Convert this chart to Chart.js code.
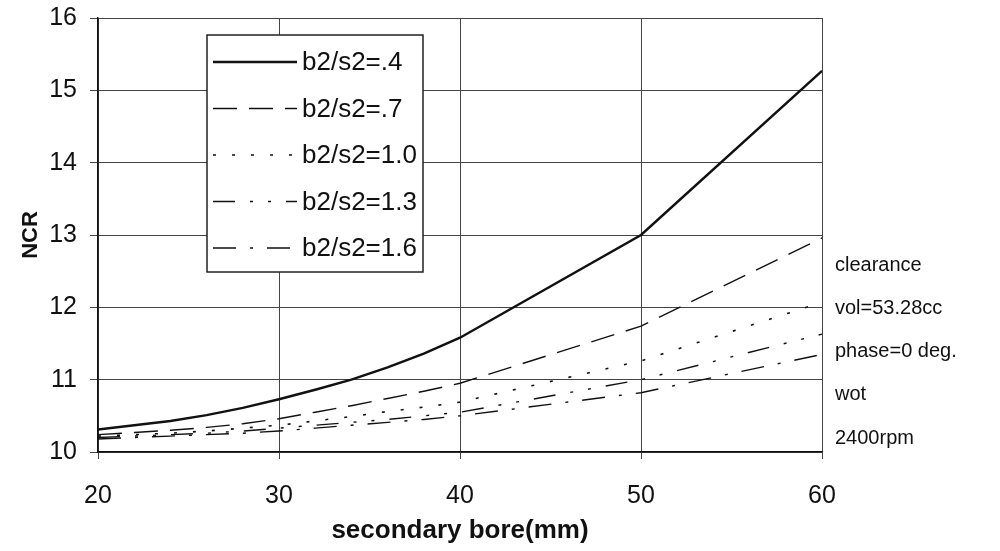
<!DOCTYPE html>
<html>
<head>
<meta charset="utf-8">
<script src="https://cdn.jsdelivr.net/npm/chart.js@4/dist/chart.umd.min.js"></script>
<style>
  html, body { margin: 0; padding: 0; background: #fff; }
  #wrap { width: 1000px; height: 551px; }
</style>
</head>
<body>
<div id="wrap"><canvas id="ncrChart"></canvas></div>
<script>
// secondary bore (mm)
const boreSizes = [20, 22, 24, 26, 28, 30, 32, 34, 36, 38, 40, 50, 60];

// NCR for each b2/s2 ratio
const ncr04 = [10.31, 10.37, 10.43, 10.51, 10.61, 10.73, 10.86, 11.00, 11.17, 11.36, 11.58, 13.00, 15.27];
const ncr07 = [10.24, 10.27, 10.30, 10.34, 10.39, 10.46, 10.55, 10.64, 10.74, 10.84, 10.95, 11.74, 12.96];
const ncr10 = [10.22, 10.24, 10.26, 10.29, 10.33, 10.37, 10.43, 10.49, 10.56, 10.62, 10.69, 11.26, 12.07];
const ncr13 = [10.20, 10.22, 10.24, 10.26, 10.29, 10.33, 10.37, 10.41, 10.45, 10.50, 10.55, 11.00, 11.63];
const ncr16 = [10.18, 10.20, 10.22, 10.24, 10.26, 10.29, 10.33, 10.37, 10.41, 10.45, 10.50, 10.82, 11.35];

const seriesLabels = ['b2/s2=.4', 'b2/s2=.7', 'b2/s2=1.0', 'b2/s2=1.3', 'b2/s2=1.6'];
const noteLines = ['clearance', 'vol=53.28cc', 'phase=0 deg.', 'wot', '2400rpm'];

const FONT = '"Liberation Sans", Arial, Helvetica, sans-serif';

function toPoints(values) {
    return values.map(function(v, i) {
        return { x: boreSizes[i], y: v };
    });
}

// legend box inside the plot and the notes at the right
const boxLegend = {
    id: 'boxLegend',
    afterDraw(chart) {
        const ctx = chart.ctx;
        const area = chart.chartArea;
        const left = area.left + 109, top = 35, w = 216, h = 237;
        ctx.save();
        ctx.fillStyle = '#fff';
        ctx.fillRect(left, top, w, h);
        ctx.strokeStyle = '#222';
        ctx.lineWidth = 1.5;
        ctx.strokeRect(left, top, w, h);

        ctx.font = '26px ' + FONT;
        ctx.fillStyle = '#111';
        ctx.textBaseline = 'middle';
        chart.data.datasets.forEach(function(ds, i) {
            const y = 62 + i * 46.5;
            ctx.strokeStyle = '#111';
            ctx.lineWidth = ds.borderWidth;
            ctx.setLineDash(ds.borderDash || []);
            ctx.beginPath();
            ctx.moveTo(left + 6, y);
            ctx.lineTo(left + 90, y);
            ctx.stroke();
            ctx.setLineDash([]);
            ctx.fillText(ds.label, left + 95, y + 1);
        });

        ctx.font = '20px ' + FONT;
        noteLines.forEach(function(t, i) {
            ctx.fillText(t, area.right + 13, 265 + i * 43.3);
        });
        ctx.restore();
    }
};

const datasets = [
    { label: seriesLabels[0], data: toPoints(ncr04), borderWidth: 2.5, borderDash: [] },
    { label: seriesLabels[1], data: toPoints(ncr07), borderWidth: 1.4, borderDash: [24, 12] },
    { label: seriesLabels[2], data: toPoints(ncr10), borderWidth: 1.6, borderDash: [3, 16] },
    { label: seriesLabels[3], data: toPoints(ncr13), borderWidth: 1.4, borderDash: [22, 15, 3, 15, 3, 15] },
    { label: seriesLabels[4], data: toPoints(ncr16), borderWidth: 1.4, borderDash: [23, 14, 3, 14] },
].map(function(ds) {
    return Object.assign({
        borderColor: '#111',
        backgroundColor: '#111',
        pointRadius: 0,
        fill: false,
        tension: 0,
    }, ds);
});

const config = {
    type: 'line',
    data: { datasets: datasets },
    options: {
        responsive: true,
        maintainAspectRatio: false,
        animation: false,
        layout: { padding: { top: 18, right: 178, left: 0, bottom: 0 } },
        plugins: {
            legend: { display: false },
            tooltip: { enabled: false },
        },
        scales: {
            x: {
                type: 'linear',
                min: 20,
                max: 60,
                ticks: {
                    stepSize: 10,
                    color: '#111',
                    padding: 22,
                    font: { family: FONT, size: 25 },
                },
                grid: { color: '#444', lineWidth: 1, tickLength: 7 },
                border: { color: '#111', width: 1.5 },
                title: {
                    display: true,
                    text: 'secondary bore(mm)',
                    color: '#111',
                    font: { family: FONT, size: 26, weight: 'bold' },
                    padding: 5,
                },
                afterFit(scale) {
                    scale.height = 99;
                    scale.paddingLeft = 0;
                    scale.paddingRight = 0;
                },
            },
            y: {
                min: 10,
                max: 16,
                ticks: {
                    stepSize: 1,
                    color: '#111',
                    padding: 13,
                    font: { family: FONT, size: 25 },
                },
                grid: { color: '#444', lineWidth: 1, tickLength: 8 },
                border: { color: '#111', width: 1.5 },
                title: {
                    display: true,
                    text: 'NCR',
                    color: '#111',
                    font: { family: FONT, size: 22, weight: 'bold' },
                    padding: 18,
                },
                afterFit(scale) {
                    scale.width = 98;
                    scale.paddingTop = 0;
                    scale.paddingBottom = 0;
                },
            },
        },
    },
    plugins: [boxLegend],
};

document.addEventListener('DOMContentLoaded', function() {
    new Chart(document.getElementById('ncrChart'), config);
});
</script>
</body>
</html>
